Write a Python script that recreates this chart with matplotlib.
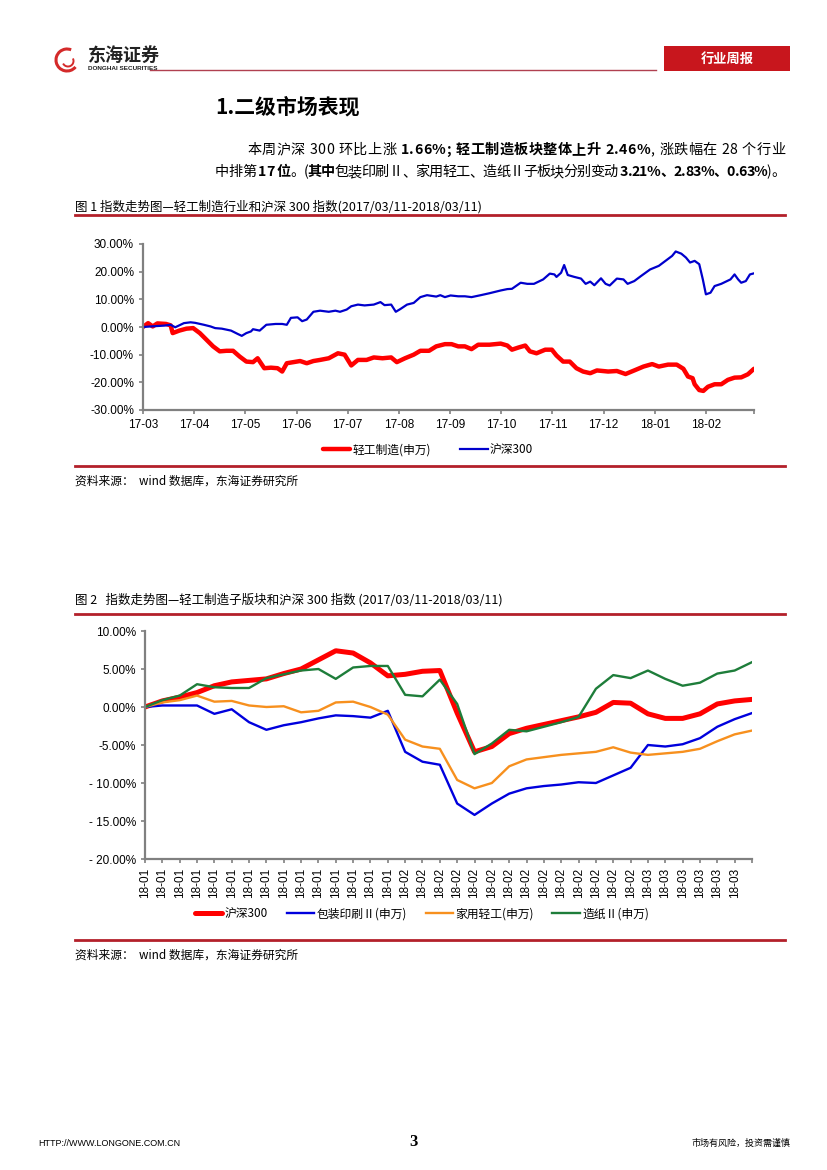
import matplotlib
matplotlib.use('Agg')
import matplotlib.pyplot as plt
from matplotlib.lines import Line2D
from matplotlib.patches import Rectangle, Arc

plt.rcParams['font.family'] = ['Noto Sans CJK SC', 'DejaVu Sans']
plt.rcParams['axes.unicode_minus'] = False

W, H = 827, 1170
CJK = ['Noto Sans CJK SC', 'DejaVu Sans']
LAT = ['Liberation Sans', 'Noto Sans CJK SC']

# ---- chart 1: 2017/03 - 2018/03, x in months since 17-03
month_labels = ['17-03', '17-04', '17-05', '17-06', '17-07', '17-08',
                '17-09', '17-10', '17-11', '17-12', '18-01', '18-02']
y1_ticks = [-30, -20, -10, 0, 10, 20, 30]
y1_labels = ['-30.00%', '-20.00%', '-10.00%', '0.00%', '10.00%', '20.00%', '30.00%']

hs_x = [0.00, 0.15, 0.41, 0.54, 0.63, 0.80, 0.93, 1.02, 1.19, 1.32,
        1.41, 1.54, 1.72, 1.85, 1.93, 2.02, 2.11, 2.15, 2.28, 2.41,
        2.59, 2.72, 2.81, 2.89, 3.02, 3.11, 3.20, 3.33, 3.46, 3.63,
        3.76, 3.85, 3.98, 4.07, 4.20, 4.33, 4.51, 4.64, 4.72, 4.85,
        4.94, 5.03, 5.16, 5.29, 5.42, 5.55, 5.73, 5.81, 5.90, 6.01,
        6.16, 6.29, 6.42, 6.60, 6.77, 6.99, 7.12, 7.21, 7.38, 7.51,
        7.64, 7.82, 7.95, 8.04, 8.08, 8.17, 8.23, 8.30, 8.43, 8.56,
        8.65, 8.74, 8.82, 8.95, 9.04, 9.12, 9.26, 9.39, 9.47, 9.60,
        9.73, 9.91, 10.08, 10.21, 10.34, 10.41, 10.52, 10.61, 10.69, 10.78,
        10.87, 10.94, 11.00, 11.09, 11.17, 11.30, 11.48, 11.56, 11.63, 11.69,
        11.78, 11.86, 11.94]
hs_y = [0.0, 0.2, 0.5, 0.8, -0.1, 1.4, 1.7, 1.5, 0.8, 0.2,
        -0.4, -0.6, -1.3, -2.5, -3.2, -2.2, -1.6, -0.8, -1.3, 0.8,
        1.1, 1.1, 0.8, 3.3, 3.5, 2.1, 2.7, 5.5, 5.9, 5.5,
        5.9, 5.5, 6.3, 7.5, 8.1, 7.8, 8.1, 9.0, 7.9, 8.1,
        5.5, 6.5, 8.1, 8.7, 10.8, 11.5, 11.0, 11.5, 10.8, 11.4,
        11.1, 11.1, 10.8, 11.5, 12.2, 13.2, 13.7, 13.8, 16.0, 15.6,
        15.6, 17.2, 19.3, 19.0, 18.1, 19.6, 22.4, 18.8, 18.1, 17.5,
        15.6, 16.4, 15.1, 17.6, 15.6, 15.0, 17.5, 17.2, 15.6, 16.6,
        18.4, 20.8, 22.1, 23.9, 25.7, 27.3, 26.5, 25.1, 23.3, 23.9,
        22.7, 17.2, 11.8, 12.4, 14.8, 15.6, 17.2, 19.0, 17.2, 16.0,
        16.6, 19.0, 19.4]

qg_x = [0.00, 0.10, 0.19, 0.28, 0.45, 0.54, 0.58, 0.71, 0.85, 0.98,
        1.11, 1.24, 1.37, 1.50, 1.63, 1.76, 1.89, 2.02, 2.15, 2.24,
        2.37, 2.50, 2.63, 2.72, 2.81, 2.94, 3.07, 3.20, 3.33, 3.46,
        3.63, 3.81, 3.94, 4.07, 4.20, 4.37, 4.51, 4.68, 4.85, 4.96,
        5.12, 5.29, 5.42, 5.59, 5.73, 5.90, 6.03, 6.16, 6.29, 6.42,
        6.55, 6.77, 6.99, 7.12, 7.21, 7.34, 7.47, 7.56, 7.69, 7.86,
        7.99, 8.08, 8.21, 8.34, 8.47, 8.60, 8.74, 8.87, 9.09, 9.26,
        9.43, 9.60, 9.78, 9.95, 10.08, 10.26, 10.43, 10.56, 10.65, 10.74,
        10.78, 10.87, 10.95, 11.04, 11.17, 11.30, 11.43, 11.56, 11.69, 11.82,
        11.94]
qg_y = [0.0, 1.4, 0.2, 1.3, 1.1, 0.6, -2.2, -1.3, -0.6, -0.4,
        -2.2, -4.6, -7.0, -8.8, -8.6, -8.6, -10.7, -12.5, -12.7, -11.3,
        -14.9, -14.7, -14.9, -16.1, -13.1, -12.7, -12.3, -13.1, -12.3, -11.9,
        -11.3, -9.5, -10.0, -13.9, -11.9, -11.9, -11.0, -11.3, -11.0, -12.7,
        -11.3, -10.0, -8.6, -8.6, -7.0, -6.2, -6.2, -7.0, -7.0, -8.0,
        -6.4, -6.4, -6.0, -6.7, -8.2, -7.4, -6.7, -8.8, -9.5, -8.2,
        -8.2, -10.3, -12.5, -12.5, -14.9, -16.1, -16.7, -15.7, -16.1, -15.9,
        -17.0, -15.7, -14.3, -13.4, -14.3, -13.6, -13.6, -15.1, -17.9, -18.5,
        -20.7, -22.8, -23.1, -21.6, -20.7, -20.7, -19.1, -18.3, -18.2, -17.1,
        -15.1]
x1_end = 11.94

# ---- chart 2: daily points 2018-01 .. 2018-03
day_labels = ['18-01'] * 15 + ['18-02'] * 14 + ['18-03'] * 6 + ['']
y2_ticks = [-20, -15, -10, -5, 0, 5, 10]
y2_labels = ['- 20.00%', '- 15.00%', '- 10.00%', '-5.00%', '0.00%', '5.00%', '10.00%']

hs300_2 = [0.0, 0.8, 1.3, 1.9, 2.8, 3.3, 3.5, 3.7, 4.4, 5.0,
           6.2, 7.4, 7.1, 5.8, 4.1, 4.3, 4.7, 4.8, -0.8, -5.9,
           -5.2, -3.5, -2.8, -2.3, -1.8, -1.3, -0.7, 0.6, 0.5, -0.9,
           -1.5, -1.5, -0.9, 0.4, 0.8, 1.0]
baozhuang = [0.0, 0.2, 0.2, 0.2, -0.9, -0.3, -2.0, -3.0, -2.4, -2.0,
             -1.5, -1.1, -1.2, -1.4, -0.5, -5.9, -7.2, -7.6, -12.7, -14.2,
             -12.7, -11.4, -10.7, -10.4, -10.2, -9.9, -10.0, -9.0, -8.0, -5.0,
             -5.2, -4.9, -4.1, -2.6, -1.6, -0.8]
jiayong = [0.0, 0.6, 0.9, 1.5, 0.7, 0.8, 0.2, 0.0, 0.1, -0.7,
           -0.5, 0.6, 0.7, 0.0, -1.0, -4.3, -5.2, -5.5, -9.6, -10.7,
           -10.0, -7.8, -6.9, -6.6, -6.3, -6.1, -5.9, -5.3, -6.0, -6.3,
           -6.1, -5.9, -5.5, -4.5, -3.6, -3.1]
zaozhi = [0.0, 0.9, 1.5, 3.0, 2.6, 2.5, 2.5, 3.8, 4.3, 4.8,
          5.0, 3.7, 5.2, 5.4, 5.4, 1.6, 1.4, 3.6, 0.4, -6.2,
          -4.8, -3.0, -3.2, -2.6, -2.0, -1.3, 2.4, 4.2, 3.8, 4.8,
          3.7, 2.8, 3.2, 4.4, 4.8, 5.9]

DARKRED = '#B3202A'
AXCOL = '#808080'

fig = plt.figure(figsize=(W / 100, H / 100), dpi=100)


def fx(x):
    return x / W


def fy(y):
    return 1 - y / H


def hline(x1, x2, y, color=DARKRED, lw=2.0):
    fig.add_artist(Line2D([fx(x1), fx(x2)], [fy(y), fy(y)], transform=fig.transFigure,
                          color=color, lw=lw))


def justified_line(x1, x2, y, parts, size):
    # lay characters out one by one so the line fills x1..x2 exactly
    r = fig.canvas.get_renderer()
    chars = []
    for s, bold in parts:
        for ch in s:
            chars.append((ch, bold))
    widths = []
    for ch, bold in chars:
        t = fig.text(0, 0, ch if ch != ' ' else 'i', fontsize=size, family=CJK,
                     fontweight='bold' if bold else 'normal')
        w = t.get_window_extent(r).width
        if ch == ' ':
            w *= 0.9
        widths.append(w)
        t.remove()
    extra = ((x2 - x1) - sum(widths)) / max(len(chars) - 1, 1)
    cur = x1
    for (ch, bold), w in zip(chars, widths):
        if ch != ' ':
            fig.text(fx(cur), fy(y), ch, fontsize=size, family=CJK, va='center',
                     fontweight='bold' if bold else 'normal')
        cur += w + extra


def style_axes(ax):
    for s in ['top', 'right']:
        ax.spines[s].set_visible(False)
    for s in ['left', 'bottom']:
        ax.spines[s].set_color(AXCOL)
        ax.spines[s].set_linewidth(1.6)
    ax.tick_params(direction='out', length=3, width=1.2, color=AXCOL, labelsize=8.5)
    for lab in ax.get_yticklabels() + ax.get_xticklabels():
        lab.set_family(LAT)


# ---- page header
fig.add_artist(Arc((fx(67), fy(60)), fx(22), 22 / H, theta1=60, theta2=330,
                   transform=fig.transFigure, color='#D42A2A', lw=2.2))
fig.add_artist(Arc((fx(68), fy(61)), fx(11), 11 / H, theta1=200, theta2=20,
                   transform=fig.transFigure, color='#D42A2A', lw=1.4))
fig.text(fx(88), fy(55), '东海证券', fontsize=13, fontweight='bold', family=CJK,
         va='center', color='#222222')
fig.text(fx(88), fy(69), 'DONGHAI SECURITIES', fontsize=4.6, fontweight='bold',
         family=LAT, va='center', color='#222222')
hline(150, 656, 70, color='#B04050', lw=1.0)
fig.add_artist(Rectangle((fx(664), fy(71)), fx(126), 25 / H, transform=fig.transFigure,
                         facecolor='#C8161D', edgecolor='none'))
fig.text(fx(727), fy(58.5), '行业周报', fontsize=9.5, fontweight='bold', family=CJK,
         color='white', ha='center', va='center')

# ---- section title and paragraph
fig.text(fx(215), fy(107), '1.二级市场表现', fontsize=15, fontweight='bold',
         family=CJK, va='center')
justified_line(247, 785, 150, [('本周沪深 300 环比上涨 ', False), ('1.66%;', True),
                               (' 轻工制造板块整体上升 2.46%', True),
                               (', 涨跌幅在 28 个行业', False)], 10.2)
justified_line(215, 785, 172, [('中排第 ', False), ('17 位', True), ('。(', False), ('其中', True),
                               ('包装印刷Ⅱ、家用轻工、造纸Ⅱ子板块分别变动 ', False),
                               ('3.21%、2.83%、0.63%', True), (')。', False)], 10.2)

# ---- figure 1
fig.text(fx(75), fy(207), '图 1 指数走势图—轻工制造行业和沪深 300 指数(2017/03/11-2018/03/11)',
         fontsize=9, family=CJK, va='center')
hline(75, 785, 215)

ax1 = fig.add_axes([fx(143), fy(410), fx(754 - 143), (410 - 244) / H])
ax1.plot(qg_x, qg_y, color='#FF0000', lw=3.2, solid_joinstyle='round',
         solid_capstyle='round', label='轻工制造(申万)')
ax1.plot(hs_x, hs_y, color='#0000CC', lw=1.6, solid_joinstyle='round',
         label='沪深300')
ax1.set_xlim(0, x1_end)
ax1.set_ylim(-30, 30)
ax1.set_yticks(y1_ticks)
ax1.set_yticklabels(y1_labels)
ax1.set_xticks(list(range(len(month_labels))) + [x1_end])
ax1.set_xticklabels(month_labels + [''])
style_axes(ax1)
h1, l1 = ax1.get_legend_handles_labels()
fig.legend(h1, l1, loc='center', bbox_to_anchor=(fx(428), fy(450)), ncol=2,
           frameon=False, fontsize=8.5, handlelength=2.3, handletextpad=0.2,
           columnspacing=2.5)

hline(75, 785, 466)
fig.text(fx(75), fy(481), '资料来源：  wind 数据库，东海证券研究所', fontsize=8.5,
         family=CJK, va='center')

# ---- figure 2
fig.text(fx(75), fy(600), '图 2   指数走势图—轻工制造子版块和沪深 300 指数 (2017/03/11-2018/03/11)',
         fontsize=9, family=CJK, va='center')
hline(75, 785, 614)

n2 = len(hs300_2)
xs = list(range(n2))
ax2 = fig.add_axes([fx(145), fy(859), fx(752 - 145), (859 - 631) / H])
ax2.plot(xs, hs300_2, color='#FF0000', lw=3.6, solid_joinstyle='round',
         solid_capstyle='round', label='沪深300')
ax2.plot(xs, baozhuang, color='#0000DD', lw=1.7, solid_joinstyle='round',
         label='包装印刷Ⅱ(申万)')
ax2.plot(xs, jiayong, color='#F7901E', lw=1.7, solid_joinstyle='round',
         label='家用轻工(申万)')
ax2.plot(xs, zaozhi, color='#1E7D3A', lw=1.7, solid_joinstyle='round',
         label='造纸Ⅱ(申万)')
ax2.set_xlim(0, n2 - 1)
ax2.set_ylim(-20, 10)
ax2.set_yticks(y2_ticks)
ax2.set_yticklabels(y2_labels)
ax2.set_xticks(xs)
ax2.set_xticklabels(day_labels, rotation=90, va='top', ha='center')
style_axes(ax2)
h2, l2 = ax2.get_legend_handles_labels()
fig.legend(h2, l2, loc='center', bbox_to_anchor=(fx(422), fy(914)), ncol=4,
           frameon=False, fontsize=8.5, handlelength=2.3, handletextpad=0.2,
           columnspacing=1.6)

hline(75, 785, 940)
fig.text(fx(75), fy(955), '资料来源：  wind 数据库，东海证券研究所', fontsize=8.5,
         family=CJK, va='center')

# ---- footer
fig.text(fx(38), fy(1143), 'HTTP://WWW.LONGONE.COM.CN', fontsize=6.5, family=LAT,
         va='center')
fig.text(fx(414), fy(1142), '3', fontsize=12, fontweight='bold', family='Liberation Serif',
         ha='center', va='center')
fig.text(fx(790), fy(1143), '市场有风险，投资需谨慎', fontsize=6.5, family=CJK,
         ha='right', va='center')

fig.savefig('out.png', dpi=100)
